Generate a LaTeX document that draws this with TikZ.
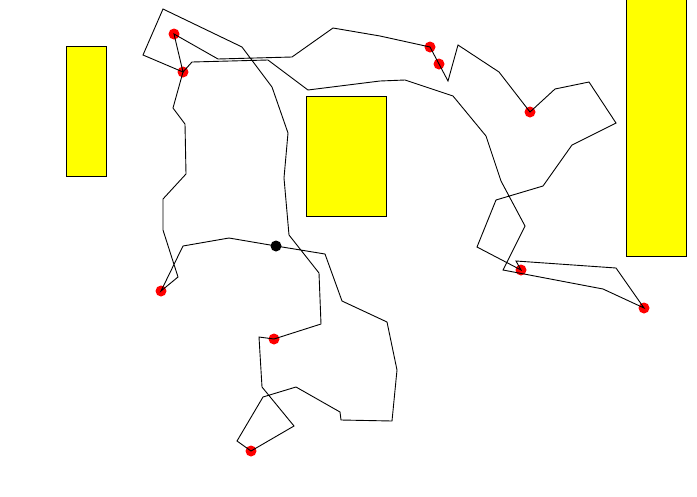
\documentclass[tikz,border=0pt]{standalone}
\definecolor{obsyellow}{RGB}{255,255,0}
\definecolor{dotred}{RGB}{255,0,0}
\begin{document}
\begin{tikzpicture}[x=1pt,y=-1pt,
  obstacle/.style={draw=black,line width=1pt,fill=obsyellow},
  waypoint/.style={circle,fill=dotred,draw=none,inner sep=0pt,minimum size=11pt},
  startpt/.style={circle,fill=black,draw=none,inner sep=0pt,minimum size=11pt},
  route/.style={draw=black,line width=0.9pt,line join=miter}]
\useasboundingbox (0,0) rectangle (697,496);
% obstacles
\draw[obstacle] (66,46) rectangle (106,176);
\draw[obstacle] (306,96) rectangle (386,216);
\draw[obstacle] (626,-2) rectangle (686,256);
% waypoints
\node[startpt] (s) at (276,246) {};
\node[waypoint] (r1) at (251,451) {};
\node[waypoint] (r2) at (274,339) {};
\node[waypoint] (r3) at (183,72) {};
\node[waypoint] (r4) at (174,34) {};
\node[waypoint] (r5) at (430,47) {};
\node[waypoint] (r6) at (439,64) {};
\node[waypoint] (r7) at (530,112) {};
\node[waypoint] (r8) at (521,270) {};
\node[waypoint] (r9) at (644,308) {};
\node[waypoint] (r10) at (161,291) {};
% route
\draw[route] (s.center) -- (325,254) -- (342,301) -- (387,322) -- (397,370)
  -- (392,421) -- (341,420) -- (340,412) -- (296,387) -- (263,397) -- (237,441)
  -- (r1.center) -- (294,426) -- (262,387) -- (259,337) -- (r2.center)
  -- (321,324) -- (319,273) -- (289,235) -- (284,178) -- (288,133) -- (272,87)
  -- (242,47) -- (163,9) -- (143,55) -- (r3.center) -- (r4.center)
  -- (218,59) -- (292,57) -- (333,28) -- (380,36) -- (r5.center) -- (r6.center)
  -- (448,81) -- (458,45) -- (499,72) -- (r7.center) -- (555,89) -- (589,82)
  -- (616,123) -- (572,145) -- (543,186) -- (496,200) -- (477,247) -- (r8.center)
  -- (516,261) -- (616,268) -- (r9.center) -- (603,289) -- (503,270) -- (525,226)
  -- (501,181) -- (486,136) -- (453,96) -- (405,80) -- (380,81) -- (308,90)
  -- (268,60) -- (192,62) -- (r3.center) -- (173,108) -- (185,124) -- (186,174)
  -- (163,199) -- (163,230) -- (178,277) -- (r10.center) -- (183,246) -- (229,238)
  -- (s.center);
\end{tikzpicture}
\end{document}
